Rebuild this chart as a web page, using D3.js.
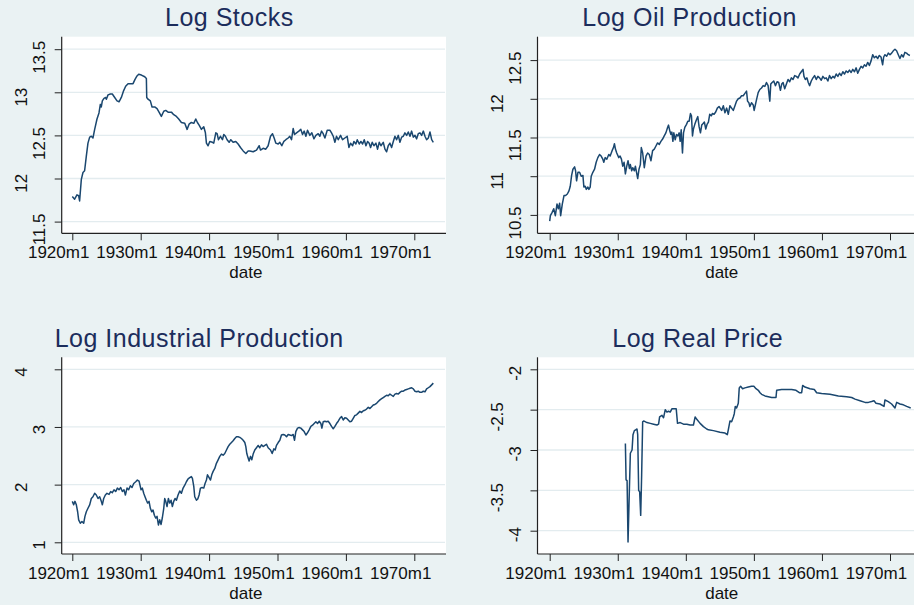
<!DOCTYPE html>
<html>
<head>
<meta charset="utf-8">
<script src="https://cdn.jsdelivr.net/npm/d3@7"></script>
<style>
  body { margin: 0; background: #eaf2f3; }
  text { font-family: "Liberation Sans", Arial, sans-serif; }
</style>
</head>
<body>
<div id="chart"></div>
<script>
// tick values and labels
const xTicks = [1920, 1930, 1940, 1950, 1960, 1970]
const xTickLabels = ["1920m1", "1930m1", "1940m1", "1950m1", "1960m1", "1970m1"]
const titles = ["Log Stocks", "Log Oil Production", "Log Industrial Production", "Log Real Price"]
const stocksTicks = [11.5, 12, 12.5, 13, 13.5]
const oilTicks = [10.5, 11, 11.5, 12, 12.5]
const ipTicks = [1, 2, 3, 4]
const priceTicks = [-4, -3.5, -3, -2.5, -2]

// series: [date (decimal year), value]
const stocks = [
  [1920.00,11.79],[1920.34,11.76],[1920.68,11.81],[1920.93,11.80],[1921.07,11.74],[1921.32,11.99],[1921.56,12.07],[1921.80,12.09],
  [1922.05,12.26],[1922.29,12.41],[1922.54,12.48],[1922.78,12.49],[1923.02,12.47],[1923.27,12.57],[1923.61,12.69],[1923.90,12.76],
  [1924.10,12.86],[1924.24,12.83],[1924.39,12.90],[1924.63,12.93],[1924.88,12.94],[1924.98,12.92],[1925.22,12.97],[1925.56,12.98],
  [1925.85,12.98],[1926.20,12.94],[1926.54,12.90],[1926.83,12.89],[1927.17,12.94],[1927.51,13.02],[1927.80,13.07],[1928.15,13.10],
  [1928.49,13.10],[1928.88,13.10],[1929.17,13.15],[1929.46,13.19],[1929.71,13.21],[1930.10,13.20],[1930.59,13.18],[1930.83,13.16],
  [1930.88,12.94],[1931.07,12.92],[1931.41,12.90],[1931.66,12.83],[1932.05,12.83],[1932.39,12.81],[1932.68,12.77],[1933.02,12.72],
  [1933.37,12.78],[1933.66,12.79],[1934.00,12.77],[1934.49,12.77],[1934.83,12.74],[1935.22,12.72],[1935.56,12.69],[1935.95,12.65],
  [1936.44,12.64],[1936.78,12.57],[1937.07,12.63],[1937.41,12.65],[1937.76,12.64],[1938.05,12.69],[1938.29,12.65],[1938.54,12.62],
  [1938.88,12.57],[1939.22,12.60],[1939.46,12.53],[1939.61,12.41],[1939.85,12.38],[1940.10,12.43],[1940.49,12.42],[1940.68,12.41],
  [1940.98,12.53],[1941.17,12.52],[1941.37,12.45],[1941.66,12.49],[1941.95,12.45],[1942.15,12.51],[1942.39,12.49],[1942.63,12.45],
  [1942.93,12.42],[1943.17,12.45],[1943.51,12.42],[1943.90,12.43],[1944.24,12.40],[1944.59,12.36],[1944.98,12.32],[1945.37,12.29],
  [1945.71,12.32],[1945.95,12.32],[1946.44,12.31],[1946.93,12.33],[1947.32,12.38],[1947.51,12.33],[1947.90,12.35],[1948.29,12.34],
  [1948.63,12.38],[1948.98,12.49],[1949.27,12.52],[1949.51,12.47],[1949.76,12.41],[1950.10,12.40],[1950.34,12.42],[1950.63,12.38],
  [1950.93,12.43],[1951.22,12.45],[1951.56,12.47],[1951.80,12.49],[1952.05,12.45],[1952.29,12.58],[1952.49,12.51],[1952.78,12.53],
  [1953.12,12.55],[1953.41,12.57],[1953.66,12.51],[1953.90,12.55],[1954.15,12.49],[1954.39,12.56],[1954.73,12.50],[1955.02,12.53],
  [1955.32,12.46],[1955.61,12.50],[1955.95,12.52],[1956.19,12.49],[1956.44,12.55],[1956.68,12.52],[1956.93,12.47],[1957.27,12.56],
  [1957.66,12.56],[1957.90,12.53],[1958.15,12.49],[1958.39,12.42],[1958.63,12.49],[1958.88,12.45],[1959.22,12.50],[1959.51,12.45],
  [1959.85,12.47],[1960.19,12.49],[1960.44,12.36],[1960.68,12.41],[1960.98,12.38],[1961.17,12.43],[1961.46,12.40],[1961.66,12.45],
  [1961.95,12.40],[1962.19,12.43],[1962.44,12.40],[1962.68,12.45],[1962.93,12.38],[1963.17,12.43],[1963.41,12.41],[1963.61,12.36],
  [1963.85,12.42],[1964.10,12.38],[1964.39,12.41],[1964.63,12.34],[1964.88,12.42],[1965.12,12.38],[1965.46,12.42],[1965.71,12.34],
  [1965.95,12.31],[1966.19,12.38],[1966.44,12.41],[1966.68,12.36],[1966.93,12.43],[1967.17,12.49],[1967.41,12.45],[1967.66,12.50],
  [1967.90,12.42],[1968.15,12.48],[1968.39,12.49],[1968.63,12.53],[1968.88,12.50],[1969.12,12.54],[1969.37,12.49],[1969.61,12.55],
  [1969.85,12.48],[1970.10,12.50],[1970.34,12.46],[1970.58,12.52],[1970.83,12.53],[1971.07,12.50],[1971.32,12.55],[1971.56,12.49],
  [1971.80,12.45],[1972.05,12.47],[1972.29,12.54],[1972.54,12.45],[1972.78,12.42]
]

const oil = [
  [1920.00,10.42],[1920.10,10.49],[1920.34,10.53],[1920.59,10.58],[1920.83,10.49],[1921.07,10.64],[1921.27,10.58],[1921.46,10.65],
  [1921.61,10.49],[1921.85,10.64],[1922.10,10.75],[1922.34,10.75],[1922.59,10.77],[1922.83,10.81],[1923.02,10.87],[1923.22,11.01],
  [1923.41,11.09],[1923.66,11.12],[1923.80,11.07],[1923.95,10.94],[1924.15,11.05],[1924.39,11.05],[1924.63,11.00],[1924.88,11.01],
  [1925.02,10.86],[1925.22,10.87],[1925.37,10.83],[1925.61,10.86],[1925.76,10.83],[1925.95,10.86],[1926.10,11.00],[1926.34,11.05],
  [1926.59,11.09],[1926.83,11.18],[1927.07,11.24],[1927.32,11.28],[1927.56,11.26],[1927.80,11.22],[1927.95,11.18],[1928.15,11.24],
  [1928.39,11.22],[1928.68,11.28],[1928.88,11.26],[1929.17,11.33],[1929.37,11.37],[1929.51,11.42],[1929.66,11.35],[1929.85,11.30],
  [1930.15,11.24],[1930.34,11.26],[1930.54,11.22],[1930.73,11.13],[1930.93,11.18],[1931.12,11.03],[1931.32,11.13],[1931.51,11.20],
  [1931.71,11.10],[1931.85,11.15],[1932.05,11.07],[1932.20,11.11],[1932.44,11.07],[1932.59,11.13],[1932.78,11.04],[1932.93,10.97],
  [1933.12,11.09],[1933.32,11.15],[1933.46,11.37],[1933.66,11.30],[1933.76,11.22],[1933.90,11.11],[1934.15,11.26],[1934.39,11.30],
  [1934.63,11.28],[1934.88,11.20],[1935.12,11.33],[1935.37,11.35],[1935.61,11.39],[1935.85,11.43],[1936.10,11.41],[1936.34,11.45],
  [1936.59,11.48],[1936.83,11.52],[1937.07,11.56],[1937.32,11.63],[1937.46,11.66],[1937.66,11.58],[1937.80,11.54],[1937.95,11.57],
  [1938.10,11.45],[1938.24,11.56],[1938.44,11.47],[1938.63,11.54],[1938.83,11.52],[1939.02,11.56],[1939.17,11.45],[1939.32,11.60],
  [1939.51,11.30],[1939.66,11.56],[1939.85,11.63],[1940.10,11.67],[1940.29,11.71],[1940.49,11.71],[1940.68,11.81],[1940.83,11.78],
  [1940.98,11.52],[1941.12,11.61],[1941.32,11.67],[1941.56,11.73],[1941.76,11.77],[1941.95,11.64],[1942.15,11.56],[1942.34,11.66],
  [1942.54,11.68],[1942.73,11.70],[1942.93,11.61],[1943.12,11.67],[1943.32,11.70],[1943.51,11.80],[1943.76,11.78],[1943.90,11.81],
  [1944.15,11.80],[1944.39,11.83],[1944.63,11.88],[1944.88,11.90],[1945.12,11.87],[1945.26,11.85],[1945.51,11.91],[1945.75,11.82],
  [1946.00,11.88],[1946.24,11.80],[1946.48,11.91],[1946.73,11.88],[1946.97,11.85],[1947.22,11.91],[1947.46,11.97],[1947.70,12.00],
  [1947.95,12.01],[1948.19,12.04],[1948.43,12.04],[1948.68,12.07],[1948.92,12.10],[1949.07,11.97],[1949.26,11.95],[1949.41,11.90],
  [1949.65,11.95],[1949.90,11.92],[1950.04,11.85],[1950.24,11.93],[1950.39,11.99],[1950.63,12.08],[1950.87,12.12],[1951.12,12.14],
  [1951.36,12.17],[1951.61,12.16],[1951.85,12.21],[1952.09,12.17],[1952.34,11.97],[1952.48,12.19],[1952.68,12.21],[1952.92,12.23],
  [1953.17,12.17],[1953.41,12.22],[1953.65,12.21],[1953.90,12.11],[1954.09,12.19],[1954.29,12.21],[1954.53,12.13],[1954.78,12.19],
  [1955.02,12.25],[1955.26,12.22],[1955.51,12.27],[1955.75,12.25],[1956.00,12.30],[1956.24,12.29],[1956.48,12.27],[1956.73,12.32],
  [1956.97,12.35],[1957.22,12.38],[1957.36,12.29],[1957.56,12.25],[1957.80,12.27],[1957.99,12.21],[1958.19,12.17],[1958.43,12.23],
  [1958.68,12.27],[1958.92,12.30],[1959.17,12.25],[1959.41,12.29],[1959.65,12.27],[1959.90,12.24],[1960.14,12.29],[1960.39,12.26],
  [1960.63,12.27],[1960.87,12.23],[1961.12,12.30],[1961.36,12.26],[1961.61,12.29],[1961.85,12.27],[1962.09,12.32],[1962.34,12.29],
  [1962.58,12.33],[1962.83,12.30],[1963.07,12.35],[1963.31,12.32],[1963.56,12.36],[1963.80,12.34],[1964.04,12.37],[1964.29,12.34],
  [1964.53,12.38],[1964.78,12.35],[1965.02,12.40],[1965.26,12.33],[1965.51,12.38],[1965.75,12.42],[1966.00,12.40],[1966.24,12.44],
  [1966.48,12.42],[1966.73,12.47],[1966.97,12.43],[1967.22,12.49],[1967.46,12.57],[1967.70,12.53],[1967.95,12.55],[1968.19,12.52],
  [1968.43,12.56],[1968.68,12.54],[1968.92,12.44],[1969.07,12.54],[1969.26,12.57],[1969.51,12.55],[1969.75,12.59],[1970.00,12.57],
  [1970.24,12.59],[1970.48,12.62],[1970.73,12.64],[1970.97,12.62],[1971.22,12.57],[1971.46,12.52],[1971.70,12.57],[1971.95,12.54],
  [1972.19,12.60],[1972.43,12.59],[1972.68,12.57],[1972.92,12.56]
]

const indprod = [
  [1920.00,1.71],[1920.20,1.65],[1920.39,1.71],[1920.59,1.65],[1920.78,1.53],[1920.93,1.39],[1921.17,1.33],[1921.41,1.36],
  [1921.66,1.33],[1921.85,1.45],[1922.05,1.53],[1922.29,1.59],[1922.54,1.65],[1922.78,1.76],[1923.02,1.79],[1923.27,1.85],
  [1923.51,1.82],[1923.76,1.76],[1924.00,1.79],[1924.24,1.71],[1924.39,1.65],[1924.59,1.76],[1924.83,1.82],[1925.07,1.85],
  [1925.37,1.83],[1925.61,1.88],[1925.85,1.86],[1926.10,1.91],[1926.34,1.88],[1926.59,1.94],[1926.83,1.91],[1927.07,1.95],
  [1927.32,1.88],[1927.56,1.91],[1927.76,1.82],[1928.00,1.94],[1928.24,1.91],[1928.49,1.98],[1928.73,1.95],[1928.98,2.02],
  [1929.27,2.05],[1929.51,2.08],[1929.76,2.06],[1929.90,1.99],[1930.05,1.91],[1930.24,1.94],[1930.44,1.85],[1930.63,1.79],
  [1930.83,1.73],[1931.02,1.68],[1931.22,1.71],[1931.41,1.59],[1931.61,1.53],[1931.80,1.56],[1932.00,1.47],[1932.20,1.42],
  [1932.39,1.45],[1932.59,1.30],[1932.78,1.39],[1932.98,1.31],[1933.17,1.43],[1933.37,1.59],[1933.51,1.76],[1933.66,1.71],
  [1933.85,1.62],[1934.05,1.76],[1934.24,1.68],[1934.44,1.73],[1934.63,1.62],[1934.83,1.71],[1935.02,1.76],[1935.22,1.73],
  [1935.46,1.82],[1935.71,1.89],[1935.95,1.85],[1936.20,1.94],[1936.44,1.99],[1936.68,2.05],[1936.93,2.10],[1937.17,2.12],
  [1937.41,2.14],[1937.56,2.11],[1937.76,1.97],[1937.90,1.79],[1938.15,1.73],[1938.34,1.75],[1938.54,1.82],[1938.73,1.94],
  [1938.98,1.95],[1939.22,1.94],[1939.41,2.02],[1939.61,2.08],[1939.76,2.17],[1940.00,2.12],[1940.20,2.08],[1940.39,2.17],
  [1940.59,2.23],[1940.83,2.28],[1941.07,2.37],[1941.32,2.43],[1941.56,2.49],[1941.80,2.53],[1942.05,2.51],[1942.29,2.54],
  [1942.54,2.60],[1942.78,2.66],[1943.02,2.70],[1943.27,2.73],[1943.51,2.76],[1943.76,2.80],[1944.00,2.83],[1944.24,2.83],
  [1944.49,2.82],[1944.73,2.80],[1944.98,2.77],[1945.22,2.73],[1945.37,2.66],[1945.51,2.54],[1945.71,2.46],[1945.85,2.41],
  [1946.05,2.49],[1946.24,2.43],[1946.44,2.53],[1946.68,2.60],[1946.93,2.64],[1947.17,2.68],[1947.41,2.64],[1947.66,2.69],
  [1947.90,2.66],[1948.15,2.68],[1948.39,2.70],[1948.63,2.64],[1948.98,2.60],[1949.22,2.54],[1949.46,2.62],[1949.66,2.60],
  [1949.85,2.68],[1950.10,2.73],[1950.34,2.77],[1950.58,2.86],[1950.83,2.87],[1951.07,2.86],[1951.32,2.83],[1951.56,2.87],
  [1951.80,2.86],[1952.05,2.85],[1952.29,2.87],[1952.49,2.77],[1952.68,2.92],[1952.93,2.98],[1953.17,2.99],[1953.41,2.98],
  [1953.66,2.95],[1953.90,2.92],[1954.15,2.86],[1954.34,2.89],[1954.63,2.95],[1954.88,3.01],[1955.12,3.03],[1955.36,3.06],
  [1955.61,3.09],[1955.85,3.06],[1956.10,3.10],[1956.34,3.06],[1956.49,2.98],[1956.68,3.09],[1956.93,3.10],[1957.17,3.09],
  [1957.41,3.10],[1957.66,3.06],[1957.90,3.01],[1958.15,2.97],[1958.39,3.01],[1958.63,3.06],[1958.88,3.10],[1959.12,3.15],
  [1959.37,3.18],[1959.61,3.12],[1959.85,3.16],[1960.10,3.15],[1960.34,3.12],[1960.58,3.09],[1960.83,3.10],[1961.07,3.15],
  [1961.32,3.20],[1961.56,3.21],[1961.80,3.24],[1962.05,3.27],[1962.29,3.25],[1962.54,3.28],[1962.78,3.29],[1963.02,3.31],
  [1963.27,3.34],[1963.51,3.32],[1963.76,3.35],[1964.00,3.38],[1964.24,3.39],[1964.49,3.41],[1964.73,3.44],[1964.98,3.47],
  [1965.22,3.49],[1965.46,3.51],[1965.71,3.53],[1965.95,3.55],[1966.19,3.54],[1966.44,3.57],[1966.68,3.55],[1966.93,3.53],
  [1967.17,3.57],[1967.41,3.58],[1967.66,3.57],[1967.90,3.60],[1968.15,3.62],[1968.39,3.62],[1968.63,3.64],[1968.88,3.65],
  [1969.12,3.66],[1969.37,3.67],[1969.61,3.68],[1969.85,3.66],[1970.10,3.62],[1970.34,3.61],[1970.58,3.62],[1970.83,3.60],
  [1971.07,3.60],[1971.32,3.62],[1971.56,3.61],[1971.80,3.66],[1972.05,3.68],[1972.29,3.70],[1972.54,3.73],[1972.78,3.76]
]

const realprice = [
  [1931.12,-2.92],[1931.22,-3.37],[1931.37,-3.38],[1931.51,-4.14],[1931.71,-3.48],[1931.85,-3.04],[1932.10,-3.00],[1932.24,-2.81],
  [1932.44,-2.76],[1932.63,-2.75],[1932.83,-2.74],[1932.93,-2.81],[1933.07,-3.50],[1933.22,-3.52],[1933.37,-3.81],[1933.51,-3.31],
  [1933.66,-2.65],[1933.80,-2.64],[1934.29,-2.66],[1934.78,-2.67],[1935.27,-2.68],[1935.76,-2.69],[1936.00,-2.68],[1936.15,-2.59],
  [1936.49,-2.57],[1936.73,-2.60],[1936.98,-2.50],[1937.22,-2.53],[1937.46,-2.52],[1937.71,-2.53],[1937.95,-2.49],[1938.59,-2.49],
  [1938.78,-2.67],[1939.17,-2.66],[1939.66,-2.68],[1940.15,-2.68],[1940.63,-2.69],[1941.12,-2.69],[1941.37,-2.59],[1941.61,-2.62],
  [1942.10,-2.67],[1942.59,-2.71],[1943.07,-2.74],[1943.32,-2.75],[1944.05,-2.76],[1945.02,-2.78],[1945.76,-2.79],[1946.10,-2.81],
  [1946.24,-2.75],[1946.49,-2.64],[1946.73,-2.65],[1946.98,-2.59],[1947.12,-2.55],[1947.27,-2.46],[1947.46,-2.48],[1947.71,-2.42],
  [1947.85,-2.23],[1948.05,-2.21],[1948.34,-2.24],[1948.68,-2.23],[1949.17,-2.22],[1949.66,-2.21],[1950.00,-2.21],[1950.31,-2.24],
  [1950.65,-2.26],[1950.90,-2.29],[1951.14,-2.31],[1951.63,-2.33],[1952.12,-2.34],[1952.61,-2.35],[1953.25,-2.35],[1953.35,-2.26],
  [1954.08,-2.25],[1954.82,-2.25],[1955.55,-2.25],[1956.19,-2.26],[1956.68,-2.29],[1957.02,-2.29],[1957.17,-2.20],[1957.51,-2.22],
  [1958.24,-2.24],[1958.88,-2.25],[1959.22,-2.29],[1959.96,-2.30],[1961.18,-2.31],[1962.41,-2.33],[1963.63,-2.34],[1964.37,-2.35],
  [1964.86,-2.37],[1965.59,-2.39],[1966.33,-2.41],[1966.82,-2.41],[1967.30,-2.40],[1967.65,-2.39],[1967.94,-2.42],[1968.53,-2.43],
  [1969.12,-2.46],[1969.26,-2.38],[1969.75,-2.40],[1970.24,-2.43],[1970.73,-2.48],[1970.98,-2.41],[1971.47,-2.43],[1971.96,-2.44],
  [1972.45,-2.46],[1973.04,-2.48]
]

const W = 914, H = 605
const lineColor = "#1a476f"
const gridColor = "#e3ecef"
const titleColor = "#1c2d5c"

// panel frames (pixels) from the picture
const panels = [
  {title: titles[0], data: stocks, ticks: stocksTicks, left: 61.7, right: 446, top: 36.7, bottom: 233.3,
   xr: [72.3, 414.3], yd: [11.5, 13.5], yr: [221.6, 49.2], titleX: 165, titleY: 26},
  {title: titles[1], data: oil, ticks: oilTicks, left: 537.5, right: 922, top: 36.7, bottom: 233.3,
   xr: [549.7, 890], yd: [10.5, 12.5], yr: [214.9, 60.1], titleX: 582.3, titleY: 26},
  {title: titles[2], data: indprod, ticks: ipTicks, left: 61.7, right: 446, top: 357.3, bottom: 554,
   xr: [72.3, 414.3], yd: [1, 4], yr: [542.3, 369.3], titleX: 54.7, titleY: 347.3},
  {title: titles[3], data: realprice, ticks: priceTicks, left: 537.5, right: 922, top: 357.3, bottom: 554,
   xr: [549.7, 890], yd: [-4, -2], yr: [530.7, 369.3], titleX: 612.3, titleY: 347.3}
]

const svg = d3.select("#chart").append("svg")
  .attr("width", W)
  .attr("height", H)
  .attr("viewBox", [0, 0, W, H])

svg.append("rect").attr("width", W).attr("height", H).attr("fill", "#eaf2f3")

panels.forEach(p => drawPanel(p))

function drawPanel(p) {
  const x = d3.scaleLinear().domain([1920, 1970]).range(p.xr)
  const y = d3.scaleLinear().domain(p.yd).range(p.yr)
  const g = svg.append("g")

  // plot region
  g.append("rect")
    .attr("x", p.left).attr("y", p.top)
    .attr("width", p.right - p.left).attr("height", p.bottom - p.top)
    .attr("fill", "#fff")

  // grid
  g.append("g").selectAll("line")
    .data(p.ticks)
    .enter().append("line")
    .attr("x1", p.left).attr("x2", p.right - 1)
    .attr("y1", d => y(d)).attr("y2", d => y(d))
    .attr("stroke", gridColor).attr("stroke-width", 1.3)

  // series
  const line = d3.line().x(d => x(d[0])).y(d => y(d[1]))
  g.append("path")
    .datum(p.data)
    .attr("d", line)
    .attr("fill", "none")
    .attr("stroke", lineColor)
    .attr("stroke-width", 1.5)
    .attr("stroke-linejoin", "round")

  // x axis
  const xAxis = g.append("g")
    .attr("transform", `translate(0,${p.bottom})`)
    .call(d3.axisBottom(x).tickValues(xTicks).tickFormat((d, i) => xTickLabels[i]).tickSize(7).tickSizeOuter(0))
  xAxis.select(".domain").remove()
  xAxis.selectAll(".tick line").attr("stroke", "#222")
  xAxis.selectAll(".tick text")
    .attr("y", 25).attr("dy", 0)
    .attr("font-size", 17).attr("fill", "#111")
    .attr("x", function () { return -0.23 * this.getComputedTextLength() })

  g.append("line")
    .attr("x1", p.left).attr("x2", p.right)
    .attr("y1", p.bottom).attr("y2", p.bottom)
    .attr("stroke", "#222").attr("stroke-width", 1.2)

  // y axis (plain hyphen for negatives, as in the original)
  const yAxis = g.append("g")
    .attr("transform", `translate(${p.left},0)`)
    .call(d3.axisLeft(y).tickValues(p.ticks).tickFormat(d => String(d)).tickSize(7).tickSizeOuter(0))
  yAxis.select(".domain").remove()
  yAxis.selectAll(".tick line").attr("stroke", "#222")
  yAxis.selectAll(".tick text")
    .attr("font-size", 17).attr("fill", "#111")
    .attr("text-anchor", "middle")
    .attr("dy", 0)
    .attr("transform", (d, i) => `translate(${i % 2 === 0 ? -16.7 : -35},0) rotate(-90)`)
    .attr("y", 0)
    .attr("x", function () { return -0.23 * this.getComputedTextLength() })

  g.append("line")
    .attr("x1", p.left).attr("x2", p.left)
    .attr("y1", p.top).attr("y2", p.bottom)
    .attr("stroke", "#222").attr("stroke-width", 1.2)

  // axis title
  g.append("text")
    .attr("x", (p.left + p.right) / 2 - 8)
    .attr("y", p.bottom + 45)
    .attr("text-anchor", "middle")
    .attr("font-size", 17).attr("fill", "#111")
    .text("date")

  // panel title
  g.append("text")
    .attr("x", p.titleX).attr("y", p.titleY)
    .attr("font-size", 25).attr("letter-spacing", 0.5)
    .attr("fill", titleColor)
    .text(p.title)
}
</script>
</body>
</html>
